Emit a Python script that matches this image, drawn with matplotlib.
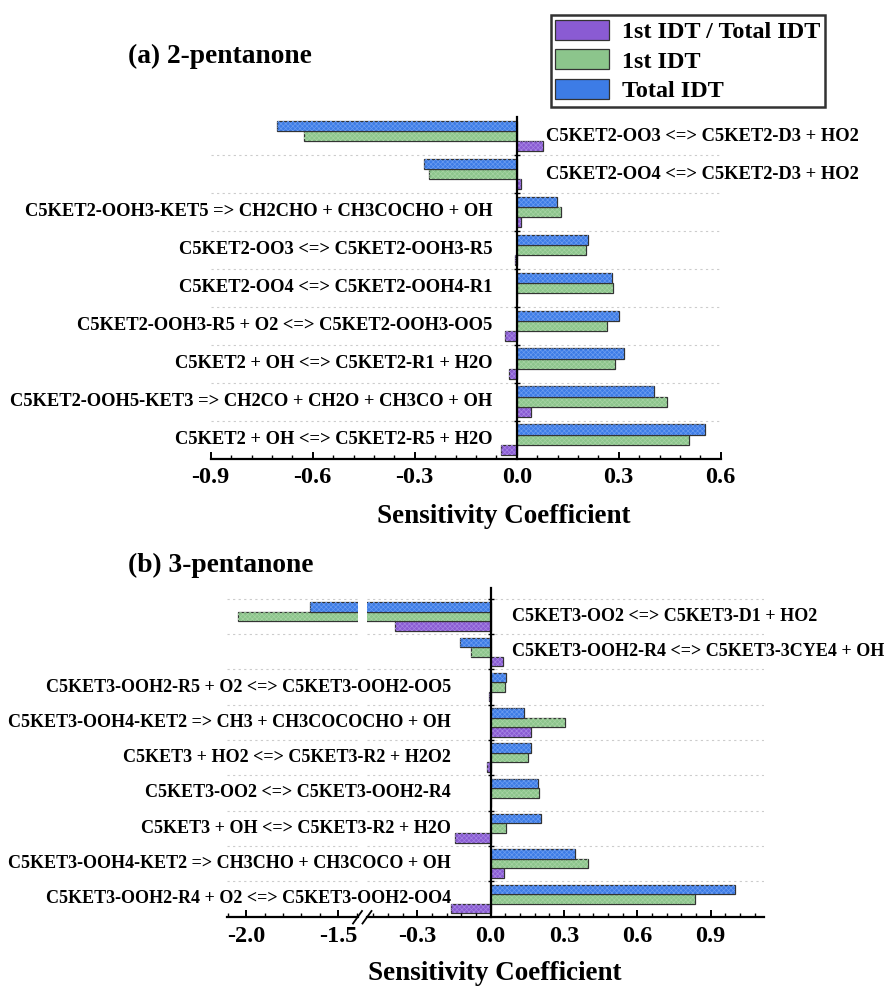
import matplotlib
matplotlib.use("Agg")
import matplotlib.pyplot as plt
from matplotlib.ticker import MultipleLocator, FixedLocator
from matplotlib.lines import Line2D
import numpy as np

plt.rcParams['font.family'] = ['Liberation Serif', 'DejaVu Serif']
plt.rcParams['font.weight'] = 'bold'
plt.rcParams['hatch.linewidth'] = 0.5

# ---- data, listed top to bottom as in the figure ----
reac_a = ["C5KET2-OO3 <=> C5KET2-D3 + HO2",
          "C5KET2-OO4 <=> C5KET2-D3 + HO2",
          "C5KET2-OOH3-KET5 => CH2CHO + CH3COCHO + OH",
          "C5KET2-OO3 <=> C5KET2-OOH3-R5",
          "C5KET2-OO4 <=> C5KET2-OOH4-R1",
          "C5KET2-OOH3-R5 + O2 <=> C5KET2-OOH3-OO5",
          "C5KET2 + OH <=> C5KET2-R1 + H2O",
          "C5KET2-OOH5-KET3 => CH2CO + CH2O + CH3CO + OH",
          "C5KET2 + OH <=> C5KET2-R5 + H2O"]
ratio_a = [0.077, 0.014, 0.013, -0.006, 0.002, -0.033, -0.024, 0.041, -0.046]
first_a = [-0.627, -0.259, 0.130, 0.204, 0.284, 0.266, 0.290, 0.443, 0.508]
total_a = [-0.704, -0.273, 0.118, 0.209, 0.279, 0.301, 0.315, 0.404, 0.554]

reac_b = ["C5KET3-OO2 <=> C5KET3-D1 + HO2",
          "C5KET3-OOH2-R4 <=> C5KET3-3CYE4 + OH",
          "C5KET3-OOH2-R5 + O2 <=> C5KET3-OOH2-OO5",
          "C5KET3-OOH4-KET2 => CH3 + CH3COCOCHO + OH",
          "C5KET3 + HO2 <=> C5KET3-R2 + H2O2",
          "C5KET3-OO2 <=> C5KET3-OOH2-R4",
          "C5KET3 + OH <=> C5KET3-R2 + H2O",
          "C5KET3-OOH4-KET2 => CH3CHO + CH3COCO + OH",
          "C5KET3-OOH2-R4 + O2 <=> C5KET3-OOH2-OO4"]
ratio_b = [-0.390, 0.049, -0.005, 0.166, -0.013, 0.002, -0.146, 0.053, -0.164]
first_b = [-2.046, -0.079, 0.057, 0.303, 0.151, 0.199, 0.061, 0.398, 0.836]
total_b = [-1.654, -0.127, 0.061, 0.136, 0.166, 0.194, 0.205, 0.343, 0.998]

series = ["1st IDT / Total IDT", "1st IDT", "Total IDT"]
colors = ["#8a5bd3", "#8cc58c", "#3d7ce6"]
hatchc = ["#a585e3", "#a6d3a3", "#6b9cf0"]

h = 0.27
offs = [-h, 0, h]


def draw_bars(ax, vals, grid_lines):
    y = np.arange(len(vals[0]))[::-1]
    hs = []
    for k, v in enumerate(vals):
        b = ax.barh(y + offs[k], v, height=h, color=colors[k],
                    edgecolor="#333333", linewidth=0.9, label=series[k])
        ax.barh(y + offs[k], v, height=h, fill=False, edgecolor=hatchc[k],
                hatch="xxxxxxx", linewidth=0)
        hs.append(b)
    for yy in grid_lines:
        ax.axhline(yy, color="#cccccc", lw=0.8, ls=(0, (2, 3)), zorder=0)
    return hs


def style_x(ax, major, minor, ticks):
    for s in ["top", "right", "left"]:
        ax.spines[s].set_visible(False)
    ax.spines["bottom"].set_linewidth(1.6)
    ax.xaxis.set_major_locator(FixedLocator(ticks))
    ax.xaxis.set_minor_locator(MultipleLocator(minor))
    ax.set_xticklabels([f"{t:.1f}" for t in ticks], fontsize=17.5,
                       fontweight="bold")
    ax.tick_params(axis="x", which="major", direction="in", length=5,
                   width=1.4, pad=6)
    ax.tick_params(axis="x", which="minor", direction="in", length=3, width=1.0)


def zero_spine(ax, ticks):
    ax.spines["left"].set_visible(True)
    ax.spines["left"].set_position(("data", 0))
    ax.spines["left"].set_linewidth(1.6)
    ax.yaxis.set_major_locator(FixedLocator(ticks))
    ax.tick_params(axis="y", which="major", direction="inout", length=4,
                   width=1.0, labelleft=False)
    ax.tick_params(axis="y", which="minor", left=False)


def put_labels(ax, names, total, off_l, off_r, fs):
    y = np.arange(len(names))[::-1]
    for yy, name, t in zip(y, names, total):
        if t < 0:
            ax.annotate(name, xy=(0, yy), xytext=(off_r, 0),
                        textcoords="offset pixels", ha="left", va="center",
                        fontsize=fs, fontweight="bold", annotation_clip=False)
        else:
            ax.annotate(name, xy=(0, yy), xytext=(-off_l, 0),
                        textcoords="offset pixels", ha="right", va="center",
                        fontsize=fs, fontweight="bold", annotation_clip=False)


W, H = 893, 988
fig = plt.figure(figsize=(W / 100, H / 100), dpi=100)


def px_rect(x0, x1, ytop, ybot):
    return [x0 / W, 1 - ybot / H, (x1 - x0) / W, (ybot - ytop) / H]


# ---- (a) 2-pentanone ----
ax1 = fig.add_axes(px_rect(210.7, 720.7, 116.7, 459))
hs = draw_bars(ax1, [ratio_a, first_a, total_a], np.arange(0.5, 8, 1.0))
ax1.set_xlim(-0.9, 0.6)
ax1.set_ylim(-0.506, 8.51)
style_x(ax1, 0.3, 0.06, [-0.9, -0.6, -0.3, 0.0, 0.3, 0.6])
zero_spine(ax1, np.arange(0.5, 8, 1.0))
put_labels(ax1, reac_a, total_a, 24, 29, 13.3)

# ---- (b) 3-pentanone, broken x axis ----
ax2l = fig.add_axes(px_rect(226.7, 357.7, 588.3, 917.3))
ax2r = fig.add_axes(px_rect(366.7, 764, 588.3, 917.3))
for ax in (ax2l, ax2r):
    draw_bars(ax, [ratio_b, first_b, total_b], np.arange(0.5, 9, 1.0))
    ax.set_ylim(-0.524, 8.80)
    ax.set_yticks([])
ax2l.set_xlim(-2.105, -1.395)
ax2r.set_xlim(-0.507, 1.118)
style_x(ax2l, 0.5, 0.1, [-2.0, -1.5])
style_x(ax2r, 0.3, 0.06, [-0.3, 0.0, 0.3, 0.6, 0.9])
zero_spine(ax2r, np.arange(0.5, 9, 1.0))
put_labels(ax2r, reac_b, total_b, 40, 21, 13.0)

# break marks on the bottom axis
for xc in (357.5, 367.0):
    fig.add_artist(Line2D([(xc - 4.5) / W, (xc + 4.5) / W],
                          [1 - 923.5 / H, 1 - 911 / H],
                          transform=fig.transFigure, color="black", lw=1.3))

# titles and axis labels
fig.text(127.5 / W, 1 - 56.7 / H, "(a) 2-pentanone", fontsize=19.8,
         fontweight="bold", ha="left", va="center")
fig.text(127.5 / W, 1 - 565 / H, "(b) 3-pentanone", fontsize=19.8,
         fontweight="bold", ha="left", va="center")
fig.text(503.5 / W, 1 - 516.7 / H, "Sensitivity Coefficient", fontsize=19.5,
         fontweight="bold", ha="center", va="center")
fig.text(495 / W, 1 - 973.3 / H, "Sensitivity Coefficient", fontsize=19.5,
         fontweight="bold", ha="center", va="center")

leg = fig.legend(handles=hs, labels=series, loc="upper right",
                 bbox_to_anchor=(825 / W, 1 - 15 / H),
                 prop={"weight": "bold", "size": 17.4}, frameon=True,
                 fancybox=False, edgecolor="black", handlelength=2.2,
                 handleheight=0.9, borderpad=0.2, labelspacing=0.25,
                 handletextpad=0.55, borderaxespad=0)
leg.get_frame().set_linewidth(1.8)

fig.savefig("out.png", dpi=100)
